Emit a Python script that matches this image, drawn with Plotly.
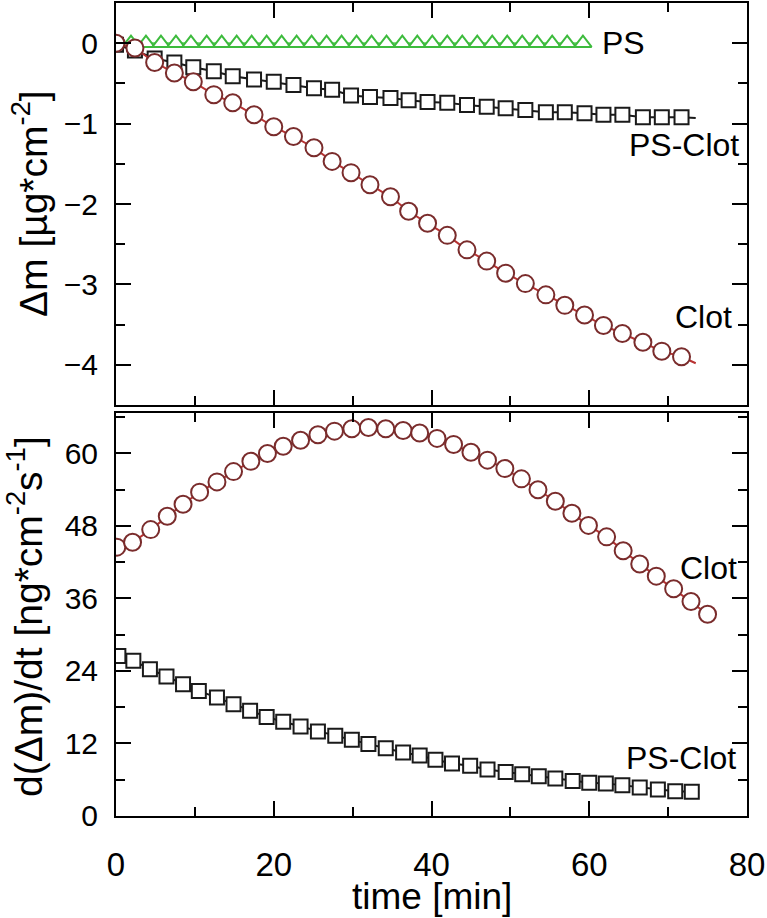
import plotly.graph_objects as go

# ---------------- data ----------------
# top panel: mass change  [µg*cm^-2] vs time [min]
t_top = [0.0, 2.4, 4.9, 7.4, 9.8, 12.4, 14.8, 17.5, 20.0, 22.5, 25.1, 27.4, 29.8, 32.2, 34.8,
         37.1, 39.5, 42.0, 44.5, 47.0, 49.4, 51.9, 54.5, 56.9, 59.4, 61.8, 64.2, 66.8, 69.2, 71.7]
clot_dm = [0.0, -0.06, -0.24, -0.37, -0.48, -0.64, -0.74, -0.89, -1.04, -1.16, -1.30, -1.47, -1.61,
           -1.76, -1.91, -2.09, -2.24, -2.39, -2.57, -2.71, -2.86, -2.99, -3.13, -3.26, -3.38,
           -3.51, -3.61, -3.72, -3.83, -3.90]
psclot_dm = [-0.02, -0.09, -0.19, -0.24, -0.30, -0.35, -0.41, -0.45, -0.48, -0.52, -0.56, -0.58,
             -0.65, -0.67, -0.68, -0.71, -0.73, -0.74, -0.77, -0.79, -0.81, -0.83, -0.86, -0.86,
             -0.87, -0.89, -0.89, -0.92, -0.92, -0.92]
# end of the fitted curves (beyond the last marker)
t_top_end = 73.5
clot_dm_end = -3.98
psclot_dm_end = -0.93

t_ps = [0.0, 1.9, 3.8, 5.7, 7.6, 9.5, 11.5, 13.4, 15.3, 17.2, 19.1, 21.0, 22.9, 24.8, 26.7, 28.6,
        30.5, 32.4, 34.3, 36.3, 38.2, 40.1, 42.0, 43.9, 45.8, 47.7, 49.6, 51.5, 53.4, 55.3, 57.2, 59.2]
ps_dm = [0.0, 0.0, 0.0, 0.0, 0.0, 0.0, 0.0, 0.0, 0.0, 0.0, 0.0, 0.0, 0.0, 0.0, 0.0, 0.0,
         0.0, 0.0, 0.0, 0.0, 0.0, 0.0, 0.0, 0.0, 0.0, 0.0, 0.0, 0.0, 0.0, 0.0, 0.0, 0.0]

# bottom panel: rate d(Δm)/dt [ng*cm^-2 s^-1] vs time [min]
t_clot_rate = [0.1, 2.1, 4.4, 6.5, 8.5, 10.6, 12.8, 14.9, 17.1, 19.2, 21.2, 23.4, 25.6, 27.7,
               29.9, 32.0, 34.2, 36.4, 38.5, 40.7, 42.8, 45.0, 47.1, 49.3, 51.4, 53.5, 55.7,
               57.8, 59.9, 62.2, 64.3, 66.4, 68.5, 70.7, 72.9, 75.0]
clot_rate = [44.5, 45.3, 47.4, 49.6, 51.6, 53.6, 55.3, 57.0, 58.7, 60.0, 61.2, 62.2, 63.1, 63.7,
             64.1, 64.3, 64.1, 63.8, 63.4, 62.5, 61.5, 60.2, 58.9, 57.5, 55.8, 54.0, 52.1,
             50.1, 48.1, 46.2, 43.9, 41.7, 39.7, 37.6, 35.5, 33.4]
t_psclot_rate = [0.3, 2.2, 4.3, 6.4, 8.5, 10.5, 12.8, 14.9, 17.0, 19.1, 21.2, 23.4, 25.6, 27.8,
                 29.9, 32.0, 34.2, 36.4, 38.5, 40.5, 42.6, 44.9, 47.1, 49.4, 51.5, 53.6, 55.7,
                 57.9, 60.0, 62.1, 64.2, 66.4, 68.7, 70.9, 73.0]
psclot_rate = [26.5, 25.7, 24.3, 23.1, 21.8, 20.7, 19.6, 18.5, 17.4, 16.4, 15.6, 14.8, 14.0, 13.3,
               12.6, 11.9, 11.2, 10.5, 10.0, 9.3, 8.7, 8.3, 7.7, 7.3, 6.9, 6.6, 6.2,
               5.8, 5.5, 5.4, 5.1, 4.7, 4.4, 4.1, 4.0]

x_tickvals = [0, 20, 40, 60, 80]
x_ticktext = ["0", "20", "40", "60", "80"]
y1_tickvals = [0, -1, -2, -3, -4]
y1_ticktext = ["0", "\u22121", "\u22122", "\u22123", "\u22124"]
y2_tickvals = [0, 12, 24, 36, 48, 60]
y2_ticktext = ["0", "12", "24", "36", "48", "60"]

# ---------------- styles ----------------
FONT = "Liberation Sans, Arial, sans-serif"
RED_LINE = "#b83232"
RED_MK = "#7a2c2c"
BLACK = "#1a1a1a"
GREEN = "#3dbb3d"

fig = go.Figure()

# --- top panel ---
fig.add_trace(go.Scatter(x=t_ps, y=ps_dm, mode="lines+markers", xaxis="x", yaxis="y",
                         line=dict(color="#5fcf5f", width=2),
                         marker=dict(symbol="triangle-up", size=15, color="white",
                                     line=dict(color=GREEN, width=2)),
                         showlegend=False))
fig.add_trace(go.Scatter(x=t_top + [t_top_end], y=psclot_dm + [psclot_dm_end], mode="lines",
                         xaxis="x", yaxis="y", line=dict(color=BLACK, width=2), showlegend=False))
fig.add_trace(go.Scatter(x=t_top, y=psclot_dm, mode="markers", xaxis="x", yaxis="y",
                         marker=dict(symbol="square", size=14, color="white",
                                     line=dict(color=BLACK, width=2)),
                         showlegend=False))
fig.add_trace(go.Scatter(x=t_top + [t_top_end], y=clot_dm + [clot_dm_end], mode="lines",
                         xaxis="x", yaxis="y", line=dict(color=RED_LINE, width=2), showlegend=False))
fig.add_trace(go.Scatter(x=t_top, y=clot_dm, mode="markers", xaxis="x", yaxis="y",
                         marker=dict(symbol="circle", size=17, color="white",
                                     line=dict(color=RED_MK, width=2)),
                         showlegend=False))

# --- bottom panel ---
fig.add_trace(go.Scatter(x=t_psclot_rate, y=psclot_rate, mode="lines+markers", xaxis="x2", yaxis="y2",
                         line=dict(color=BLACK, width=2),
                         marker=dict(symbol="square", size=14, color="white",
                                     line=dict(color=BLACK, width=2)),
                         showlegend=False))
fig.add_trace(go.Scatter(x=t_clot_rate, y=clot_rate, mode="lines+markers", xaxis="x2", yaxis="y2",
                         line=dict(color=RED_LINE, width=2),
                         marker=dict(symbol="circle", size=17, color="white",
                                     line=dict(color=RED_MK, width=2)),
                         showlegend=False))

axis_common = dict(showline=True, linecolor="black", linewidth=2, mirror="allticks",
                   ticks="inside", ticklen=15, tickwidth=2, tickcolor="black",
                   showgrid=False, zeroline=False, automargin=False,
                   ticklabeloverflow="allow")

fig.update_layout(
    width=767, height=918,
    margin=dict(l=116, r=20, t=3, b=102),
    plot_bgcolor="white", paper_bgcolor="white",
    font=dict(family=FONT, color="black"),
    xaxis=dict(domain=[0, 1], anchor="y", range=[0, 80], tickvals=x_tickvals, showticklabels=False,
               minor=dict(dtick=10, tick0=0, ticklen=9, tickwidth=2, ticks="inside", tickcolor="black"),
               **axis_common),
    yaxis=dict(domain=[0.5055, 1], anchor="x", range=[-4.5, 0.5],
               tickvals=y1_tickvals, ticktext=y1_ticktext,
               tickfont=dict(size=30, family=FONT), ticklabelstandoff=10,
               minor=dict(dtick=0.5, tick0=0, ticklen=9, tickwidth=2, ticks="inside", tickcolor="black"),
               **axis_common),
    xaxis2=dict(domain=[0, 1], anchor="y2", range=[0, 80], matches="x",
                tickvals=x_tickvals, ticktext=x_ticktext,
                tickfont=dict(size=33, family=FONT), ticklabelstandoff=18,
                minor=dict(dtick=10, tick0=0, ticklen=9, tickwidth=2, ticks="inside", tickcolor="black"),
                **axis_common),
    yaxis2=dict(domain=[0, 0.4957], anchor="x2", range=[0, 66.7],
                tickvals=y2_tickvals, ticktext=y2_ticktext,
                tickfont=dict(size=30, family=FONT), ticklabelstandoff=10,
                minor=dict(dtick=6, tick0=0, ticklen=9, tickwidth=2, ticks="inside", tickcolor="black"),
                **axis_common),
)

# axis titles
title_font = dict(size=39, family=FONT, color="black")
fig.add_annotation(x=-0.136, y=0.753, xref="paper", yref="paper", text="Δm [µg*cm<sup>-2</sup>]",
                   textangle=-90, showarrow=False, xanchor="center", yanchor="middle", font=title_font)
fig.add_annotation(x=-0.144, y=0.245, xref="paper", yref="paper",
                   text="d(Δm)/dt [ng*cm<sup>-2</sup>s<sup>-1</sup>]",
                   textangle=-90, showarrow=False, xanchor="center", yanchor="middle", font=title_font)
fig.add_annotation(x=0.5, y=-0.0985, xref="paper", yref="paper", text="time [min]",
                   showarrow=False, xanchor="center", yanchor="middle", font=dict(size=37, family=FONT))

# curve labels
lab = dict(size=32, family=FONT, color="black")
fig.add_annotation(x=61.3, y=0.0, xref="x", yref="y", text="PS", showarrow=False,
                   xanchor="left", yanchor="middle", font=lab)
fig.add_annotation(x=79.2, y=-1.27, xref="x", yref="y", text="PS-Clot", showarrow=False,
                   xanchor="right", yanchor="middle", font=lab)
fig.add_annotation(x=78.4, y=-3.41, xref="x", yref="y", text="Clot", showarrow=False,
                   xanchor="right", yanchor="middle", font=lab)
fig.add_annotation(x=79.0, y=41.1, xref="x2", yref="y2", text="Clot", showarrow=False,
                   xanchor="right", yanchor="middle", font=lab)
fig.add_annotation(x=78.9, y=9.6, xref="x2", yref="y2", text="PS-Clot", showarrow=False,
                   xanchor="right", yanchor="middle", font=lab)

fig.write_html("out.html", config={"displayModeBar": False},
               post_script="document.body.style.margin='0';document.body.style.padding='0';")
